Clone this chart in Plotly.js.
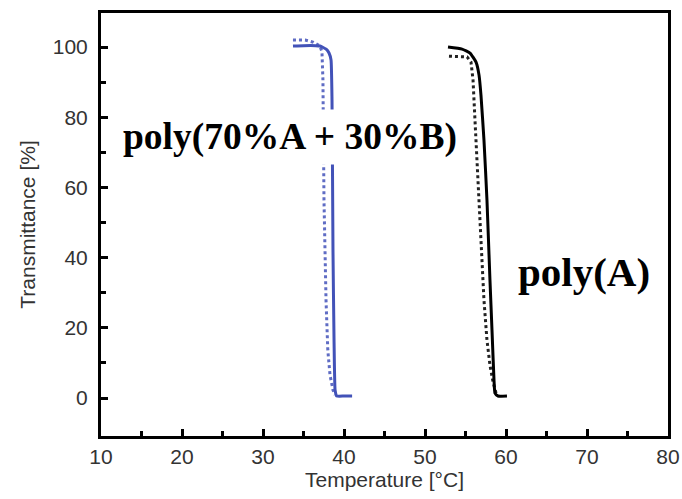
<!DOCTYPE html>
<html>
<head>
<meta charset="utf-8">
<script src="https://cdn.plot.ly/plotly-3.0.1.min.js"></script>
<style>html,body{margin:0;padding:0;background:#fff;}#chart{width:682px;height:499px;}</style>
</head>
<body>
<div id="chart"></div>
<script>
// poly(70%A + 30%B), solid (blue)
const blueSolidT = [33.7, 35.0, 36.5, 37.04, 37.8, 38.15, 38.4, 38.52, 38.64, 38.77, 38.9, 39.1, 40.0, 41.0];
const blueSolidY = [100.3, 100.4, 100.4, 100.3, 99.4, 98.3, 96.3, 84.9, 42.2, 16.5, 2.3, 0.6, 0.6, 0.6];
// poly(70%A + 30%B), dotted (blue)
const blueDotT = [33.7, 35.2, 36.17, 37.04, 37.28, 37.4, 37.53, 37.78, 38.0, 38.27, 38.64, 38.9];
const blueDotY = [102.0, 102.0, 101.4, 100.3, 98.6, 90.6, 56.4, 27.9, 13.7, 6.6, 2.3, 0.9];
// poly(A), solid (black)
const blackSolidT = [52.84, 54.57, 55.56, 56.30, 56.67, 56.91, 57.28, 57.65, 58.02, 58.27, 58.52, 58.64, 59.01, 60.12];
const blackSolidY = [100.0, 99.4, 98.3, 95.7, 92.0, 86.3, 73.5, 56.4, 33.6, 19.4, 5.1, 1.4, 0.6, 0.6];
// poly(A), dotted (black)
const blackDotT = [52.96, 54.32, 55.19, 55.68, 55.93, 56.17, 56.54, 56.91, 57.28, 57.65, 58.02, 58.40, 58.77];
const blackDotY = [97.4, 97.4, 97.2, 95.7, 90.6, 79.2, 62.1, 45.0, 27.9, 16.5, 9.4, 4.6, 1.4];

const xTicks = [10, 20, 30, 40, 50, 60, 70, 80];
const yTicks = [0, 20, 40, 60, 80, 100];
const labelBlend = "poly(70%A + 30%B)";
const labelA = "poly(A)";
const xTitle = "Temperature [°C]";
const yTitle = "Transmittance [%]";

const traces = [
  {x: blueDotT, y: blueDotY, mode: 'lines', line: {color: '#5f6cc4', width: 3, dash: 'dot'}},
  {x: blueSolidT, y: blueSolidY, mode: 'lines', line: {color: '#4252b8', width: 3, shape: 'spline', smoothing: 0.4}},
  {x: blackDotT, y: blackDotY, mode: 'lines', line: {color: '#222222', width: 3, dash: 'dot'}},
  {x: blackSolidT, y: blackSolidY, mode: 'lines', line: {color: '#000000', width: 3, shape: 'spline', smoothing: 0.4}}
];

const axisFont = {family: 'Liberation Sans, Arial, sans-serif', size: 21, color: '#333333'};

const layout = {
  width: 682, height: 499,
  margin: {l: 101, r: 14, t: 13, b: 63},
  paper_bgcolor: '#ffffff', plot_bgcolor: '#ffffff',
  showlegend: false,
  xaxis: {
    range: [10, 80], tickvals: xTicks, ticktext: xTicks.map(String),
    ticks: 'inside', ticklen: 7, tickwidth: 3, tickcolor: '#000',
    minor: {tickvals: [15, 25, 35, 45, 55, 65, 75], ticks: 'inside', ticklen: 5, tickwidth: 3, tickcolor: '#000'},
    showline: true, linewidth: 3, linecolor: '#000', mirror: true,
    showgrid: false, zeroline: false, tickfont: axisFont, ticklabelstandoff: 0,
    automargin: 'bottom',
    title: {text: xTitle, font: axisFont, standoff: 5}
  },
  yaxis: {
    range: [-10.8, 109.7], tickvals: yTicks, ticktext: yTicks.map(String),
    ticks: 'inside', ticklen: 7, tickwidth: 3, tickcolor: '#000',
    minor: {tickvals: [10, 30, 50, 70, 90], ticks: 'inside', ticklen: 5, tickwidth: 3, tickcolor: '#000'},
    showline: true, linewidth: 3, linecolor: '#000', mirror: true,
    showgrid: false, zeroline: false, tickfont: axisFont, ticklabelstandoff: 6,
    title: {text: yTitle, font: axisFont, standoff: 12}
  },
  annotations: [
    {x: 33.3, y: 74.4, xref: 'x', yref: 'y', text: '<b>' + labelBlend + '</b>', showarrow: false,
     font: {family: 'Liberation Serif, Times New Roman, serif', size: 37.5, color: '#000'},
     bgcolor: '#ffffff', borderpad: 6},
    {x: 69.6, y: 36.0, xref: 'x', yref: 'y', text: '<b>' + labelA + '</b>', showarrow: false,
     font: {family: 'Liberation Serif, Times New Roman, serif', size: 41, color: '#000'},
     bgcolor: '#ffffff', borderpad: 2}
  ]
};

Plotly.newPlot('chart', traces, layout, {displayModeBar: false, staticPlot: true});
</script>
</body>
</html>
